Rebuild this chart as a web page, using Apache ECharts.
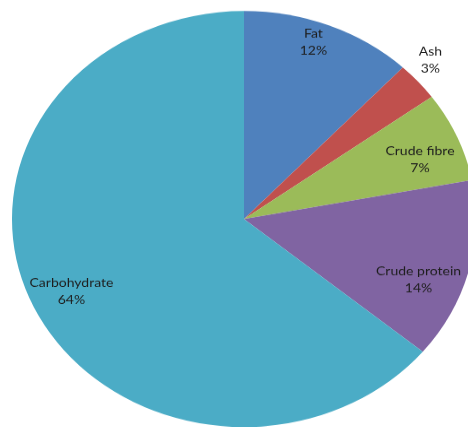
<!DOCTYPE html>
<html>
<head>
<meta charset="utf-8">
<script src="https://cdn.jsdelivr.net/npm/echarts@6/dist/echarts.min.js"></script>
<style>
  html, body { margin: 0; padding: 0; background: #ffffff; overflow: hidden; }
  #wrap { width: 468px; height: 427px; overflow: hidden; position: relative; }
  /* the pie is drawn as a circle and flattened into an ellipse */
  #chart { width: 468px; height: 476px; transform: scaleY(0.8966); transform-origin: 0 0; }
</style>
</head>
<body>
<div id="wrap"><div id="chart"></div></div>
<script>
// Proximate composition (%)
const categories = ['Fat', 'Ash', 'Crude fibre', 'Crude protein', 'Carbohydrate'];
const shares = [12, 3, 7, 14, 64];

const palette = ['#4F81BD', '#C0504D', '#9BBB59', '#8064A2', '#4BACC6'];
// nudges for the "best fit" label placement
const labelNudge = {
  'Fat': [0, -22],
  'Ash': [45, -53],
  'Crude fibre': [3, 9],
  'Crude protein': [-8, 21],
  'Carbohydrate': [-2, 0]
};

const slices = categories.map((name, i) => ({
  name: name,
  value: shares[i],
  itemStyle: { color: palette[i] }
}));

const labelRing = categories.map((name, i) => ({
  name: name,
  value: shares[i],
  label: { offset: labelNudge[name] }
}));

const chart = echarts.init(document.getElementById('chart'), null, { renderer: 'canvas' });
chart.setOption({
  animation: false,
  backgroundColor: '#ffffff',
  series: [
    {
      type: 'pie',
      center: [244, 244.3],
      radius: [0, 232],
      startAngle: 90,
      clockwise: true,
      silent: true,
      label: { show: false },
      labelLine: { show: false },
      itemStyle: { borderWidth: 0 },
      data: slices
    },
    {
      type: 'pie',
      center: [244, 244.3],
      radius: [139, 232],
      startAngle: 90,
      clockwise: true,
      silent: true,
      itemStyle: { color: 'rgba(0,0,0,0)', borderWidth: 0 },
      labelLine: { show: false },
      label: {
        show: true,
        position: 'inside',
        formatter: p => p.name + '\n' + p.value + '%',
        fontFamily: 'Lato',
        fontSize: 14,
        lineHeight: 19,
        color: '#1e1e1e',
        align: 'center'
      },
      data: labelRing
    }
  ]
});
</script>
</body>
</html>
